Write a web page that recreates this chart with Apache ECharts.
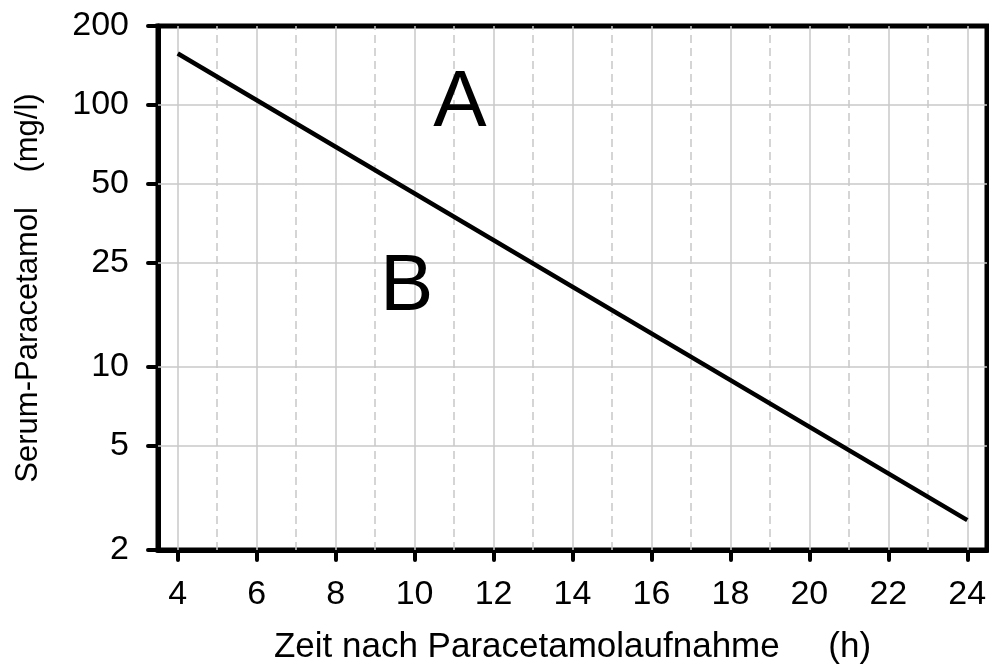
<!DOCTYPE html>
<html>
<head>
<meta charset="utf-8">
<script src="https://cdn.jsdelivr.net/npm/echarts@6/dist/echarts.min.js"></script>
<style>
  html, body { margin: 0; padding: 0; background: #fff; }
  #chart { width: 989px; height: 665px; }
</style>
</head>
<body>
<div id="chart"></div>
<script>
// Daten
const tickHours = [4, 6, 8, 10, 12, 14, 16, 18, 20, 22, 24];
const oddHours = [5, 7, 9, 11, 13, 15, 17, 19, 21, 23];
const concTicks = [2, 5, 10, 25, 50, 100, 200];
const concGrid = [5, 10, 25, 50, 100];
const lineHours = [4, 24];
const lineConc = [157, 2.6];
const zoneLabels = ['A', 'B'];
const zoneHours = [11.15, 9.8];
const zoneConc = [101, 20];

const FONT = 'Liberation Sans, Arial, sans-serif';
const gridColor = '#c8c8c8';

const chart = echarts.init(document.getElementById('chart'));

const gridLines = [].concat(
  tickHours.map(h => ({ xAxis: h, lineStyle: { type: 'solid' } })),
  oddHours.map(h => ({ xAxis: h, lineStyle: { type: [8, 5] } })),
  concGrid.map(c => ({ yAxis: c, lineStyle: { type: 'solid' } }))
);

chart.setOption({
  animation: false,
  backgroundColor: '#fff',
  grid: {
    left: 158,
    right: 2,
    top: 26,
    bottom: 115,
    outerBoundsMode: 'none',
    show: true,
    borderColor: '#000',
    borderWidth: 5
  },
  xAxis: {
    type: 'value',
    min: 3.5,
    max: 24.5,
    name: 'Zeit nach Paracetamolaufnahme     (h)',
    nameLocation: 'middle',
    nameGap: 80,
    nameTextStyle: { fontFamily: FONT, fontSize: 35, color: '#000' },
    axisLine: { show: true, lineStyle: { color: '#000', width: 5 } },
    axisTick: {
      show: true,
      customValues: tickHours,
      length: 10,
      lineStyle: { color: '#000', width: 4, cap: 'round' }
    },
    axisLabel: {
      customValues: tickHours,
      margin: 28,
      fontFamily: FONT,
      fontSize: 34,
      color: '#000'
    },
    splitLine: { show: false }
  },
  yAxis: {
    type: 'log',
    logBase: 10,
    min: 2,
    max: 200,
    name: 'Serum-Paracetamol    (mg/l)',
    nameLocation: 'middle',
    nameGap: 114,
    nameTextStyle: { fontFamily: FONT, fontSize: 31, color: '#000' },
    axisLine: { show: true, lineStyle: { color: '#000', width: 5 } },
    axisTick: {
      show: true,
      customValues: concTicks,
      length: 10,
      lineStyle: { color: '#000', width: 4, cap: 'round' }
    },
    axisLabel: {
      customValues: concTicks,
      margin: 29,
      fontFamily: FONT,
      fontSize: 34,
      color: '#000'
    },
    splitLine: { show: false }
  },
  series: [
    {
      name: 'grid',
      type: 'line',
      data: [],
      z: 1,
      silent: true,
      markLine: {
        silent: true,
        symbol: 'none',
        label: { show: false },
        lineStyle: { color: gridColor, width: 1.5 },
        data: gridLines
      }
    },
    {
      name: 'Nomogrammlinie',
      type: 'line',
      z: 5,
      data: lineHours.map((h, i) => [h, lineConc[i]]),
      showSymbol: false,
      lineStyle: { color: '#000', width: 4.5 }
    },
    {
      name: 'Zonen',
      type: 'scatter',
      z: 6,
      symbolSize: 0,
      itemStyle: { opacity: 1 },
      data: zoneLabels.map((t, i) => [zoneHours[i], zoneConc[i], t]),
      label: {
        show: true,
        position: 'inside',
        formatter: p => p.value[2],
        fontFamily: FONT,
        fontSize: 80,
        color: '#000'
      }
    }
  ]
});
</script>
</body>
</html>
